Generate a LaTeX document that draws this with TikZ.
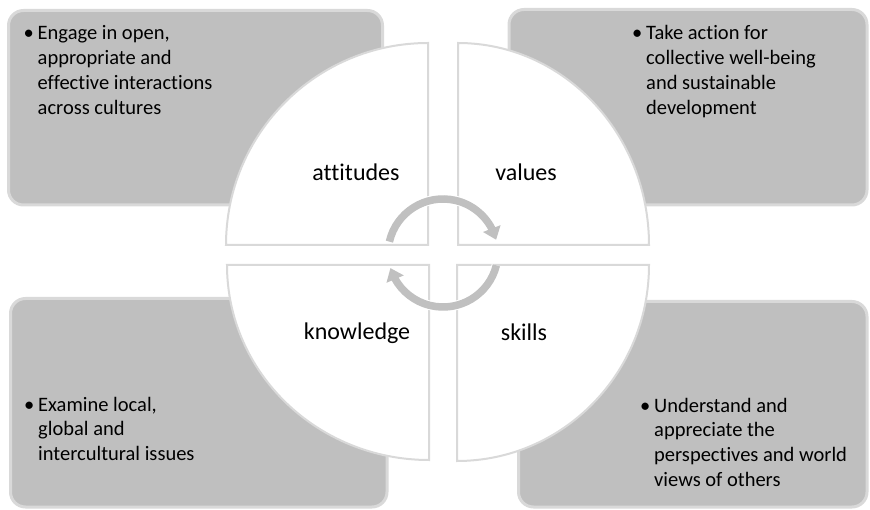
\documentclass[tikz,border=0pt]{standalone}
\usepackage{fontspec}
\setmainfont{Carlito}[Ligatures={NoCommon,NoRare,NoContextual}]
\usetikzlibrary{arrows.meta,bending}
\definecolor{boxfill}{RGB}{191,191,191}
\definecolor{boxline}{RGB}{217,217,217}
\definecolor{arrowgray}{RGB}{192,192,192}
\newcommand{\bulmark}[1]{\noindent\llap{\hbox to #1{\hss\textbullet\hss}}}
\begin{document}
\begin{tikzpicture}[x=1pt,y=-1pt,
  box/.style={fill=boxfill, draw=boxline, line width=3pt, rounded corners=15pt},
  quad/.style={fill=white, draw=boxline, line width=2pt, line join=miter},
  lab/.style={font=\fontsize{24}{29}\selectfont, inner sep=0pt, anchor=base},
  txt/.style={inner sep=0pt, anchor=base west, font=\fontsize{20.5}{24.7}\selectfont},
  cycunder/.style={white, line width=9.5pt},
  cyc/.style={arrowgray, line width=7.5pt}
]
\path[use as bounding box] (0,0) rectangle (870,510);
% boxes
\draw[box] (8.5,10.5) rectangle (382.5,205);
\draw[box] (509,9.5) rectangle (867,205);
\draw[box] (10.5,298.5) rectangle (387,507);
\draw[box] (518.5,301.5) rectangle (867,507);
% quadrants
\draw[quad] (428,245) -- (226,245) arc[start angle=180, end angle=270, x radius=202, y radius=202] -- cycle;
\draw[quad] (458,245) -- (458,43) arc[start angle=270, end angle=360, x radius=191, y radius=202] -- cycle;
\draw[quad] (457,265) -- (649,265) arc[start angle=0, end angle=90, x radius=192, y radius=196] -- cycle;
\draw[quad] (429,265) -- (429,460) arc[start angle=90, end angle=180, x radius=202, y radius=195] -- cycle;
% cycle arrows
\coordinate (topc) at (443,254);
\coordinate (botc) at (443,252);
\draw[cycunder, -{Triangle[length=13pt,width=21pt]}] ([shift={(193:55)}]topc) arc[start angle=193, end angle=345, radius=55];
\draw[cyc, -{Triangle[length=12pt,width=18pt]}] ([shift={(193:55)}]topc) arc[start angle=193, end angle=345, radius=55];
\draw[cycunder, -{Triangle[length=13pt,width=21pt]}] ([shift={(14:55)}]botc) arc[start angle=14, end angle=163, radius=55];
\draw[cyc, -{Triangle[length=12pt,width=18pt]}] ([shift={(14:55)}]botc) arc[start angle=14, end angle=163, radius=55];
% quadrant labels
\node[lab] (attitudes) at (356,181) {attitudes};
\node[lab] (values) at (526,181) {values};
\node[lab] (knowledge) at (357,340) {knowledge};
\node[lab] (skills) at (524,341) {skills};
% box texts
\node[txt] (tltext) at (37.5,40) {\parbox[t]{250pt}{\raggedright\bulmark{18pt}Engage in open,\\appropriate and\\effective interactions\\across cultures}};
\node[txt] (trtext) at (646,40) {\parbox[t]{220pt}{\raggedright\bulmark{18pt}Take action for\\collective well-being\\and sustainable\\development}};
\node[txt] (bltext) at (38,411) {\parbox[t]{250pt}{\raggedright\bulmark{18pt}Examine local,\\global and\\intercultural issues}};
\node[txt] (brtext) at (654,412) {\parbox[t]{220pt}{\raggedright\bulmark{18pt}Understand and\\appreciate the\\perspectives and world\\views of others}};
\end{tikzpicture}
\end{document}
